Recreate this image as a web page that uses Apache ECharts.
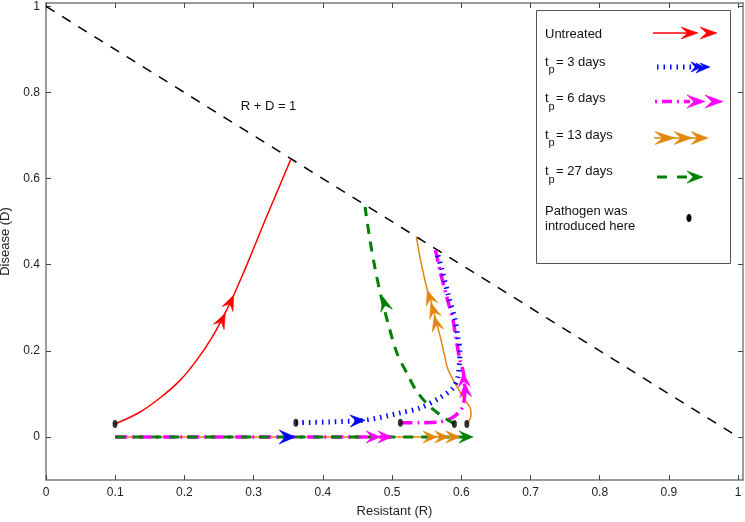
<!DOCTYPE html>
<html><head><meta charset="utf-8">
<script src="https://cdn.jsdelivr.net/npm/echarts@6/dist/echarts.min.js"></script>
<style>html,body{margin:0;padding:0;background:#fff}#c{width:745px;height:522px}</style>
</head><body><div id="c"></div>
<script>
// ---------- data ----------
const xTicks = [0, 0.1, 0.2, 0.3, 0.4, 0.5, 0.6, 0.7, 0.8, 0.9, 1];
const yTicks = [0, 0.2, 0.4, 0.6, 0.8, 1];
const boundaryLine = [[0, 1], [1, 0]];
const untreated = [[0.0997,0.030],[0.136,0.058],[0.165,0.091],[0.194,0.132],[0.218,0.179],[0.239,0.229],[0.256,0.279],[0.270,0.325],[0.281,0.365],[0.298,0.430],[0.318,0.509],[0.338,0.585],[0.354,0.646]];
const tp3 = [[0.361,0.033],[0.410,0.035],[0.461,0.039],[0.512,0.056],[0.540,0.067],[0.569,0.091],[0.588,0.114],[0.595,0.139],[0.598,0.202],[0.595,0.232],[0.591,0.272],[0.582,0.325],[0.572,0.388],[0.565,0.430]];
const tp6 = [[0.512,0.033],[0.540,0.033],[0.569,0.035],[0.588,0.046],[0.601,0.067],[0.605,0.102],[0.603,0.149],[0.598,0.179],[0.592,0.232],[0.588,0.272],[0.579,0.325],[0.569,0.388],[0.562,0.439]];
const tp13 = [[0.608,0.030],[0.614,0.049],[0.613,0.067],[0.608,0.079],[0.594,0.116],[0.581,0.156],[0.574,0.202],[0.570,0.230],[0.562,0.279],[0.557,0.311],[0.551,0.341],[0.542,0.404],[0.535,0.465]];
const tp27 = [[0.590,0.030],[0.574,0.046],[0.555,0.070],[0.536,0.105],[0.522,0.146],[0.507,0.195],[0.494,0.265],[0.483,0.334],[0.475,0.395],[0.468,0.458],[0.461,0.534]];
const base3 = [[0.1,0],[0.360,0]];
const base6 = [[0.1,0],[0.500,0]];
const base13 = [[0.1,0],[0.598,0]];
const base27 = [[0.1,0],[0.617,0]];
const introduced = [[0.0997,0.030],[0.361,0.033],[0.512,0.033],[0.590,0.030],[0.608,0.030]];
// arrowhead tips
const arrowsUntreated = [[0.259,0.287],[0.271,0.329]];
const arrowsTp3 = [[0.461,0.039]];
const arrowsTp6 = [[0.603,0.149],[0.605,0.125]];
const arrowsTp13 = [[0.551,0.341],[0.556,0.311],[0.561,0.281]];
const arrowsTp27 = [[0.487,0.325]];
const arrowsBase3 = [[0.360,0]];
const arrowsBase6 = [[0.483,0],[0.500,0]];
const arrowsBase13 = [[0.565,0],[0.582,0],[0.598,0]];
const arrowsBase27 = [[0.617,0]];

// ---------- colours ----------
const RED='#ff0000', BLUE='#0000ff', MAG='#ff00ff', ORA='#e3870a', GRN='#008000';
const FONT='Liberation Sans, Arial, sans-serif';

function nearestDir(p, curve, api){
  let best=Infinity, dir=[1,0];
  for(let i=0;i<curve.length-1;i++){
    const a=api.coord(curve[i]), b=api.coord(curve[i+1]);
    const vx=b[0]-a[0], vy=b[1]-a[1];
    const l2=vx*vx+vy*vy; if(!l2) continue;
    let t=((p[0]-a[0])*vx+(p[1]-a[1])*vy)/l2; t=Math.max(0,Math.min(1,t));
    const dx=a[0]+t*vx-p[0], dy=a[1]+t*vy-p[1];
    const d=dx*dx+dy*dy;
    if(d<best){best=d; const l=Math.sqrt(l2); dir=[vx/l,vy/l];}
  }
  return dir;
}
function headPoints(p,u,L,W){
  const n=[-u[1],u[0]];
  return [p,
    [p[0]-u[0]*L+n[0]*W, p[1]-u[1]*L+n[1]*W],
    [p[0]-u[0]*L*0.62, p[1]-u[1]*L*0.62],
    [p[0]-u[0]*L-n[0]*W, p[1]-u[1]*L-n[1]*W]];
}
function arrowSeries(tips, curve, color, L, W){
  return {
    type:'custom', coordinateSystem:'cartesian2d', z:6, silent:true,
    data: tips,
    renderItem(params, api){
      const p = api.coord([api.value(0), api.value(1)]);
      const u = nearestDir(p, curve, api);
      return {type:'polygon', shape:{points: headPoints(p,u,L,W)},
        style:{fill:color, stroke:color, lineWidth:0.6}};
    }
  };
}
function lineSeries(data, color, width, type, z, smooth){
  return {type:'line', data, showSymbol:false, symbol:'none', smooth:smooth||false, z:z||3, silent:true,
    lineStyle:{color, width, type}};
}

// ---------- legend (graphic) ----------
const LX=536, LY=10, LW=194, LH=253;
const g = [];
g.push({type:'rect', shape:{x:LX+0.5,y:LY+0.5,width:LW,height:LH}, style:{fill:'#fff', stroke:'#555', lineWidth:1}, z:10});
const txt=(x,y,t,fs)=>({type:'text', x, y, style:{text:t, fontSize:fs||13, fontFamily:FONT, fill:'#111', verticalAlign:'middle', align:'left'}, z:11});
g.push(txt(545,34,'Untreated'));
const tpLabels=[['3',62],['6',98.5],['13',135],['27',171.5]];
tpLabels.forEach(([d,y])=>{
  g.push(txt(545,y,'t'));
  g.push(txt(548.6,y+8,'p',11));
  g.push(txt(556,y,'= '+d+' days'));
});
g.push(txt(545,211,'Pathogen was'));
g.push(txt(545,226,'introduced here'));
const seg=(x1,x2,y,color,w,dash)=>({type:'line', shape:{x1,y1:y,x2,y2:y}, style:{stroke:color,lineWidth:w,lineDash:dash||null}, z:11});
const head=(tx,y,L,W,color)=>({type:'polygon', shape:{points:headPoints([tx,y],[1,0],L,W)}, style:{fill:color,stroke:color,lineWidth:0.6}, z:12});
// red
g.push(seg(653,690,33,RED,1.5));
g.push(head(698,33,17,6,RED)); g.push(head(717,33,17,6,RED));
// blue
g.push(seg(657,692,67,BLUE,5,[1.5,5]));
g.push(head(702,67,11,5,BLUE)); g.push(head(706,68,10,5,BLUE)); g.push(head(710,67,10,4,BLUE));
// magenta
g.push(seg(655,690,101.5,MAG,3.5,[2,5,10,5]));
g.push(head(705,101.5,18,6.5,MAG)); g.push(head(723,101.5,18,6.5,MAG));
// orange
g.push(seg(654,700,138,ORA,1.5));
g.push(head(675,138,20,6.5,ORA)); g.push(head(692,138,18,6.5,ORA)); g.push(head(708,138,17,6.5,ORA));
// green
g.push(seg(657,690,177,GRN,3,[10,10]));
g.push(head(703,177,16,6,GRN));
// dot
g.push({type:'ellipse', shape:{cx:689,cy:218,rx:2.6,ry:4}, style:{fill:'#000'}, z:12});
// R + D = 1 label
g.push({type:'text', x:268.5, y:106, style:{text:'R + D = 1', fontSize:13, fontFamily:FONT, fill:'#111', align:'center', verticalAlign:'middle'}, z:11});

const axisCommon = {
  axisLine:{show:true, onZero:false, lineStyle:{color:'#7a7a7a', width:1.5}},
  splitLine:{show:false},
};
const labelStyle = {color:'#222', fontSize:12, fontFamily:FONT};

const option = {
  animation:false,
  backgroundColor:'#fff',
  grid:{left:46, right:2, top:3, bottom:42, containLabel:false, outerBoundsMode:'none'},
  xAxis:[
    Object.assign({type:'value', min:0, max:1.007, position:'bottom',
      name:'Resistant (R)', nameLocation:'middle', nameGap:25,
      nameTextStyle:{color:'#222', fontSize:13, fontFamily:FONT},
      axisTick:{show:true, inside:true, length:5, customValues:xTicks, lineStyle:{color:'#444', width:1}},
      axisLabel:Object.assign({customValues:xTicks, margin:7, formatter:v=>String(+v.toFixed(2))}, labelStyle)}, axisCommon),
    Object.assign({type:'value', min:0, max:1.007, position:'top',
      axisTick:{show:true, inside:true, length:5, customValues:xTicks, lineStyle:{color:'#444', width:1}},
      axisLabel:{show:false}}, axisCommon)
  ],
  yAxis:[
    Object.assign({type:'value', min:-0.1, max:1.008, position:'left',
      name:'Disease (D)', nameLocation:'middle', nameGap:30, nameRotate:90,
      nameTextStyle:{color:'#222', fontSize:13, fontFamily:FONT},
      axisTick:{show:true, inside:true, length:5, customValues:yTicks, lineStyle:{color:'#444', width:1}},
      axisLabel:Object.assign({customValues:yTicks, margin:6, formatter:v=>String(+v.toFixed(2))}, labelStyle)}, axisCommon),
    Object.assign({type:'value', min:-0.1, max:1.008, position:'right',
      axisTick:{show:true, inside:true, length:5, customValues:yTicks, lineStyle:{color:'#444', width:1}},
      axisLabel:{show:false}}, axisCommon)
  ],
  graphic: g,
  series:[
    lineSeries(boundaryLine,'#000',1.5,[10,9],2),
    lineSeries(untreated, RED, 1.5, 'solid', 3, 0.35),
    lineSeries(base13, ORA, 1.5, 'solid', 3),
    lineSeries(base6, MAG, 3.5, [12,5,2,5], 3),
    lineSeries(base27, GRN, 3, [10,8], 4),
    lineSeries(tp27, GRN, 3, [10,8], 4, 0.3),
    lineSeries(tp13, ORA, 1.5, 'solid', 3, 0.3),
    lineSeries(tp6, MAG, 3.5, [12,5,2,5], 3, 0.3),
    lineSeries(tp3, BLUE, 5, [1.5,5], 4, 0.3),
    arrowSeries(arrowsUntreated, untreated, RED, 15, 6),
    arrowSeries(arrowsTp3, tp3, BLUE, 15, 6),
    arrowSeries(arrowsTp6, tp6, MAG, 14, 6),
    arrowSeries(arrowsTp13, tp13, ORA, 15, 6),
    arrowSeries(arrowsTp27, tp27, GRN, 14, 6),
    arrowSeries(arrowsBase3, base3, BLUE, 16, 7),
    arrowSeries(arrowsBase6, base6, MAG, 14, 6),
    arrowSeries(arrowsBase13, base13, ORA, 14, 6),
    arrowSeries(arrowsBase27, base27, GRN, 14, 6),
    {type:'scatter', data:introduced, symbol:'circle', symbolSize:[5,8], z:8, silent:true,
      itemStyle:{color:'#000'}}
  ]
};
const chart = echarts.init(document.getElementById('c'), null, {renderer:'canvas'});
chart.setOption(option);
</script></body></html>
